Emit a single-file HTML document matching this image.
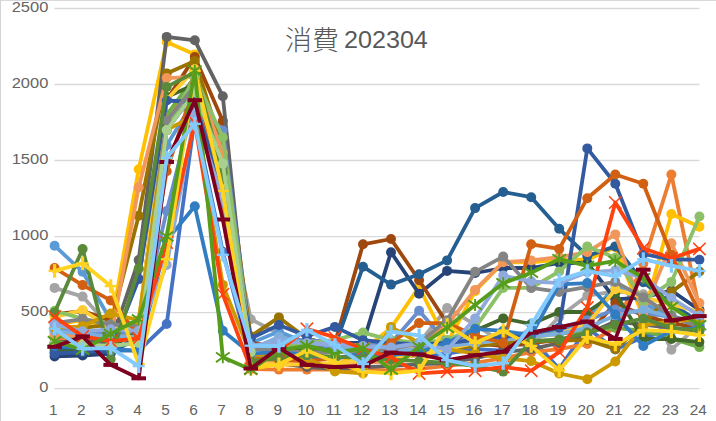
<!DOCTYPE html>
<html><head><meta charset="utf-8"><title>消費 202304</title>
<style>
html,body{margin:0;padding:0;background:#fff;}
#c{position:relative;width:716px;height:421px;overflow:hidden;background:#fff;font-family:"Liberation Sans","Noto Sans CJK JP",sans-serif;color:#595959;}
#bt{position:absolute;left:0;top:0;width:716px;height:1px;background:#d9d9d9;}
#bl{position:absolute;left:0;top:0;width:1.2px;height:421px;background:#d4d4d4;}
.yl{position:absolute;left:0;width:48.3px;text-align:right;transform:scaleX(1.07);transform-origin:100% 50%;font-size:15.4px;color:#646464;line-height:20px;height:20px;}
.xl{position:absolute;top:399.6px;width:40px;text-align:center;font-size:15.4px;color:#646464;line-height:20px;height:20px;}
#t{position:absolute;left:0;width:716px;top:21px;height:34px;font-size:23.6px;line-height:34px;white-space:pre;}
#t span{position:absolute;top:0;}
#t .j{left:285px;top:0.5px;font-family:"Noto Sans CJK JP",sans-serif;font-size:27px;font-weight:300;}
#t .d{left:343.8px;top:2.4px;transform:scaleX(1.065);transform-origin:0 50%;}
</style></head><body>
<div id="c">
<svg width="716" height="421" viewBox="0 0 716 421" style="position:absolute;left:0;top:0">
<line x1="54.4" x2="699.4" y1="388.6" y2="388.6" stroke="#d9d9d9" stroke-width="1.3"/>
<line x1="54.4" x2="699.4" y1="312.6" y2="312.6" stroke="#d9d9d9" stroke-width="1.3"/>
<line x1="54.4" x2="699.4" y1="236.6" y2="236.6" stroke="#d9d9d9" stroke-width="1.3"/>
<line x1="54.4" x2="699.4" y1="160.5" y2="160.5" stroke="#d9d9d9" stroke-width="1.3"/>
<line x1="54.4" x2="699.4" y1="84.5" y2="84.5" stroke="#d9d9d9" stroke-width="1.3"/>
<line x1="54.4" x2="699.4" y1="8.5" y2="8.5" stroke="#d9d9d9" stroke-width="1.3"/>
<g stroke="#4472C4" fill="#4472C4">
<polyline points="54.6,343.0 82.6,349.1 110.7,350.6 138.7,350.6 166.7,324.0 194.8,118.0 222.8,251.8 250.8,358.2 278.9,356.4 306.9,358.2 334.9,358.2 363.0,355.1 391.0,358.2 419.1,355.1 447.1,353.6 475.1,349.1 503.2,350.6 531.2,338.4 559.2,368.8 587.3,327.8 615.3,349.5 643.3,336.9 671.4,330.8 699.4,327.0" fill="none" stroke-width="3.8" stroke-linejoin="round" stroke-linecap="round"/>
<circle cx="54.6" cy="343.0" r="5.0" stroke="none"/>
<circle cx="82.6" cy="349.1" r="5.0" stroke="none"/>
<circle cx="110.7" cy="350.6" r="5.0" stroke="none"/>
<circle cx="138.7" cy="350.6" r="5.0" stroke="none"/>
<circle cx="166.7" cy="324.0" r="5.0" stroke="none"/>
<circle cx="194.8" cy="118.0" r="5.0" stroke="none"/>
<circle cx="222.8" cy="251.8" r="5.0" stroke="none"/>
<circle cx="250.8" cy="358.2" r="5.0" stroke="none"/>
<circle cx="278.9" cy="356.4" r="5.0" stroke="none"/>
<circle cx="306.9" cy="358.2" r="5.0" stroke="none"/>
<circle cx="334.9" cy="358.2" r="5.0" stroke="none"/>
<circle cx="363.0" cy="355.1" r="5.0" stroke="none"/>
<circle cx="391.0" cy="358.2" r="5.0" stroke="none"/>
<circle cx="419.1" cy="355.1" r="5.0" stroke="none"/>
<circle cx="447.1" cy="353.6" r="5.0" stroke="none"/>
<circle cx="475.1" cy="349.1" r="5.0" stroke="none"/>
<circle cx="503.2" cy="350.6" r="5.0" stroke="none"/>
<circle cx="531.2" cy="338.4" r="5.0" stroke="none"/>
<circle cx="559.2" cy="368.8" r="5.0" stroke="none"/>
<circle cx="587.3" cy="327.8" r="5.0" stroke="none"/>
<circle cx="615.3" cy="349.5" r="5.0" stroke="none"/>
<circle cx="643.3" cy="336.9" r="5.0" stroke="none"/>
<circle cx="671.4" cy="330.8" r="5.0" stroke="none"/>
<circle cx="699.4" cy="327.0" r="5.0" stroke="none"/>
</g>
<g stroke="#ED7D31" fill="#ED7D31">
<polyline points="54.6,338.4 82.6,343.0 110.7,344.5 138.7,335.4 166.7,122.5 194.8,78.4 222.8,206.1 250.8,369.1 278.9,369.6 306.9,369.6 334.9,369.6 363.0,369.6 391.0,370.4 419.1,368.8 447.1,365.8 475.1,362.8 503.2,358.2 531.2,352.1 559.2,349.1 587.3,343.9 615.3,327.8 643.3,263.6 671.4,174.5 699.4,309.5" fill="none" stroke-width="3.8" stroke-linejoin="round" stroke-linecap="round"/>
<circle cx="54.6" cy="338.4" r="5.0" stroke="none"/>
<circle cx="82.6" cy="343.0" r="5.0" stroke="none"/>
<circle cx="110.7" cy="344.5" r="5.0" stroke="none"/>
<circle cx="138.7" cy="335.4" r="5.0" stroke="none"/>
<circle cx="166.7" cy="122.5" r="5.0" stroke="none"/>
<circle cx="194.8" cy="78.4" r="5.0" stroke="none"/>
<circle cx="222.8" cy="206.1" r="5.0" stroke="none"/>
<circle cx="250.8" cy="369.1" r="5.0" stroke="none"/>
<circle cx="278.9" cy="369.6" r="5.0" stroke="none"/>
<circle cx="306.9" cy="369.6" r="5.0" stroke="none"/>
<circle cx="334.9" cy="369.6" r="5.0" stroke="none"/>
<circle cx="363.0" cy="369.6" r="5.0" stroke="none"/>
<circle cx="391.0" cy="370.4" r="5.0" stroke="none"/>
<circle cx="419.1" cy="368.8" r="5.0" stroke="none"/>
<circle cx="447.1" cy="365.8" r="5.0" stroke="none"/>
<circle cx="475.1" cy="362.8" r="5.0" stroke="none"/>
<circle cx="503.2" cy="358.2" r="5.0" stroke="none"/>
<circle cx="531.2" cy="352.1" r="5.0" stroke="none"/>
<circle cx="559.2" cy="349.1" r="5.0" stroke="none"/>
<circle cx="587.3" cy="343.9" r="5.0" stroke="none"/>
<circle cx="615.3" cy="327.8" r="5.0" stroke="none"/>
<circle cx="643.3" cy="263.6" r="5.0" stroke="none"/>
<circle cx="671.4" cy="174.5" r="5.0" stroke="none"/>
<circle cx="699.4" cy="309.5" r="5.0" stroke="none"/>
</g>
<g stroke="#A5A5A5" fill="#A5A5A5">
<polyline points="54.6,287.9 82.6,296.6 110.7,327.8 138.7,343.0 166.7,130.1 194.8,84.5 222.8,183.3 250.8,319.3 278.9,333.6 306.9,343.0 334.9,346.0 363.0,349.1 391.0,350.6 419.1,343.0 447.1,308.0 475.1,324.7 503.2,343.0 531.2,346.0 559.2,317.0 587.3,295.7 615.3,291.3 643.3,294.3 671.4,349.7 699.4,324.7" fill="none" stroke-width="3.8" stroke-linejoin="round" stroke-linecap="round"/>
<circle cx="54.6" cy="287.9" r="5.0" stroke="none"/>
<circle cx="82.6" cy="296.6" r="5.0" stroke="none"/>
<circle cx="110.7" cy="327.8" r="5.0" stroke="none"/>
<circle cx="138.7" cy="343.0" r="5.0" stroke="none"/>
<circle cx="166.7" cy="130.1" r="5.0" stroke="none"/>
<circle cx="194.8" cy="84.5" r="5.0" stroke="none"/>
<circle cx="222.8" cy="183.3" r="5.0" stroke="none"/>
<circle cx="250.8" cy="319.3" r="5.0" stroke="none"/>
<circle cx="278.9" cy="333.6" r="5.0" stroke="none"/>
<circle cx="306.9" cy="343.0" r="5.0" stroke="none"/>
<circle cx="334.9" cy="346.0" r="5.0" stroke="none"/>
<circle cx="363.0" cy="349.1" r="5.0" stroke="none"/>
<circle cx="391.0" cy="350.6" r="5.0" stroke="none"/>
<circle cx="419.1" cy="343.0" r="5.0" stroke="none"/>
<circle cx="447.1" cy="308.0" r="5.0" stroke="none"/>
<circle cx="475.1" cy="324.7" r="5.0" stroke="none"/>
<circle cx="503.2" cy="343.0" r="5.0" stroke="none"/>
<circle cx="531.2" cy="346.0" r="5.0" stroke="none"/>
<circle cx="559.2" cy="317.0" r="5.0" stroke="none"/>
<circle cx="587.3" cy="295.7" r="5.0" stroke="none"/>
<circle cx="615.3" cy="291.3" r="5.0" stroke="none"/>
<circle cx="643.3" cy="294.3" r="5.0" stroke="none"/>
<circle cx="671.4" cy="349.7" r="5.0" stroke="none"/>
<circle cx="699.4" cy="324.7" r="5.0" stroke="none"/>
</g>
<g stroke="#FFC000" fill="#FFC000">
<polyline points="54.6,324.7 82.6,320.2 110.7,327.8 138.7,169.2 166.7,41.9 194.8,54.4 222.8,157.5 250.8,364.3 278.9,364.3 306.9,365.8 334.9,365.8 363.0,350.6 391.0,327.8 419.1,287.0 447.1,343.0 475.1,291.3 503.2,262.4 531.2,262.4 559.2,259.7 587.3,259.7 615.3,247.2 643.3,317.1 671.4,214.0 699.4,226.8" fill="none" stroke-width="3.8" stroke-linejoin="round" stroke-linecap="round"/>
<circle cx="54.6" cy="324.7" r="5.0" stroke="none"/>
<circle cx="82.6" cy="320.2" r="5.0" stroke="none"/>
<circle cx="110.7" cy="327.8" r="5.0" stroke="none"/>
<circle cx="138.7" cy="169.2" r="5.0" stroke="none"/>
<circle cx="166.7" cy="41.9" r="5.0" stroke="none"/>
<circle cx="194.8" cy="54.4" r="5.0" stroke="none"/>
<circle cx="222.8" cy="157.5" r="5.0" stroke="none"/>
<circle cx="250.8" cy="364.3" r="5.0" stroke="none"/>
<circle cx="278.9" cy="364.3" r="5.0" stroke="none"/>
<circle cx="306.9" cy="365.8" r="5.0" stroke="none"/>
<circle cx="334.9" cy="365.8" r="5.0" stroke="none"/>
<circle cx="363.0" cy="350.6" r="5.0" stroke="none"/>
<circle cx="391.0" cy="327.8" r="5.0" stroke="none"/>
<circle cx="419.1" cy="287.0" r="5.0" stroke="none"/>
<circle cx="447.1" cy="343.0" r="5.0" stroke="none"/>
<circle cx="475.1" cy="291.3" r="5.0" stroke="none"/>
<circle cx="503.2" cy="262.4" r="5.0" stroke="none"/>
<circle cx="531.2" cy="262.4" r="5.0" stroke="none"/>
<circle cx="559.2" cy="259.7" r="5.0" stroke="none"/>
<circle cx="587.3" cy="259.7" r="5.0" stroke="none"/>
<circle cx="615.3" cy="247.2" r="5.0" stroke="none"/>
<circle cx="643.3" cy="317.1" r="5.0" stroke="none"/>
<circle cx="671.4" cy="214.0" r="5.0" stroke="none"/>
<circle cx="699.4" cy="226.8" r="5.0" stroke="none"/>
</g>
<g stroke="#5B9BD5" fill="#5B9BD5">
<polyline points="54.6,245.7 82.6,271.8 110.7,320.2 138.7,343.0 166.7,145.3 194.8,99.7 222.8,198.5 250.8,343.0 278.9,331.6 306.9,343.0 334.9,349.1 363.0,352.1 391.0,353.6 419.1,349.1 447.1,343.0 475.1,338.4 503.2,335.4 531.2,333.9 559.2,330.8 587.3,320.0 615.3,285.1 643.3,303.5 671.4,315.6 699.4,324.7" fill="none" stroke-width="3.8" stroke-linejoin="round" stroke-linecap="round"/>
<circle cx="54.6" cy="245.7" r="5.0" stroke="none"/>
<circle cx="82.6" cy="271.8" r="5.0" stroke="none"/>
<circle cx="110.7" cy="320.2" r="5.0" stroke="none"/>
<circle cx="138.7" cy="343.0" r="5.0" stroke="none"/>
<circle cx="166.7" cy="145.3" r="5.0" stroke="none"/>
<circle cx="194.8" cy="99.7" r="5.0" stroke="none"/>
<circle cx="222.8" cy="198.5" r="5.0" stroke="none"/>
<circle cx="250.8" cy="343.0" r="5.0" stroke="none"/>
<circle cx="278.9" cy="331.6" r="5.0" stroke="none"/>
<circle cx="306.9" cy="343.0" r="5.0" stroke="none"/>
<circle cx="334.9" cy="349.1" r="5.0" stroke="none"/>
<circle cx="363.0" cy="352.1" r="5.0" stroke="none"/>
<circle cx="391.0" cy="353.6" r="5.0" stroke="none"/>
<circle cx="419.1" cy="349.1" r="5.0" stroke="none"/>
<circle cx="447.1" cy="343.0" r="5.0" stroke="none"/>
<circle cx="475.1" cy="338.4" r="5.0" stroke="none"/>
<circle cx="503.2" cy="335.4" r="5.0" stroke="none"/>
<circle cx="531.2" cy="333.9" r="5.0" stroke="none"/>
<circle cx="559.2" cy="330.8" r="5.0" stroke="none"/>
<circle cx="587.3" cy="320.0" r="5.0" stroke="none"/>
<circle cx="615.3" cy="285.1" r="5.0" stroke="none"/>
<circle cx="643.3" cy="303.5" r="5.0" stroke="none"/>
<circle cx="671.4" cy="315.6" r="5.0" stroke="none"/>
<circle cx="699.4" cy="324.7" r="5.0" stroke="none"/>
</g>
<g stroke="#70AD47" fill="#70AD47">
<polyline points="54.6,335.4 82.6,338.4 110.7,343.0 138.7,330.8 166.7,114.9 194.8,76.9 222.8,152.9 250.8,358.2 278.9,355.1 306.9,349.1 334.9,350.6 363.0,352.1 391.0,353.6 419.1,352.1 447.1,349.1 475.1,343.0 503.2,339.9 531.2,336.9 559.2,333.9 587.3,330.8 615.3,327.8 643.3,330.8 671.4,338.4 699.4,347.1" fill="none" stroke-width="3.8" stroke-linejoin="round" stroke-linecap="round"/>
<circle cx="54.6" cy="335.4" r="5.0" stroke="none"/>
<circle cx="82.6" cy="338.4" r="5.0" stroke="none"/>
<circle cx="110.7" cy="343.0" r="5.0" stroke="none"/>
<circle cx="138.7" cy="330.8" r="5.0" stroke="none"/>
<circle cx="166.7" cy="114.9" r="5.0" stroke="none"/>
<circle cx="194.8" cy="76.9" r="5.0" stroke="none"/>
<circle cx="222.8" cy="152.9" r="5.0" stroke="none"/>
<circle cx="250.8" cy="358.2" r="5.0" stroke="none"/>
<circle cx="278.9" cy="355.1" r="5.0" stroke="none"/>
<circle cx="306.9" cy="349.1" r="5.0" stroke="none"/>
<circle cx="334.9" cy="350.6" r="5.0" stroke="none"/>
<circle cx="363.0" cy="352.1" r="5.0" stroke="none"/>
<circle cx="391.0" cy="353.6" r="5.0" stroke="none"/>
<circle cx="419.1" cy="352.1" r="5.0" stroke="none"/>
<circle cx="447.1" cy="349.1" r="5.0" stroke="none"/>
<circle cx="475.1" cy="343.0" r="5.0" stroke="none"/>
<circle cx="503.2" cy="339.9" r="5.0" stroke="none"/>
<circle cx="531.2" cy="336.9" r="5.0" stroke="none"/>
<circle cx="559.2" cy="333.9" r="5.0" stroke="none"/>
<circle cx="587.3" cy="330.8" r="5.0" stroke="none"/>
<circle cx="615.3" cy="327.8" r="5.0" stroke="none"/>
<circle cx="643.3" cy="330.8" r="5.0" stroke="none"/>
<circle cx="671.4" cy="338.4" r="5.0" stroke="none"/>
<circle cx="699.4" cy="347.1" r="5.0" stroke="none"/>
</g>
<g stroke="#264478" fill="#264478">
<polyline points="54.6,356.4 82.6,355.5 110.7,353.6 138.7,335.4 166.7,130.1 194.8,92.1 222.8,168.1 250.8,350.6 278.9,343.0 306.9,339.9 334.9,343.0 363.0,343.0 391.0,252.2 419.1,293.7 447.1,270.9 475.1,273.0 503.2,268.0 531.2,268.0 559.2,263.0 587.3,263.0 615.3,299.3 643.3,297.4 671.4,290.5 699.4,310.0" fill="none" stroke-width="3.8" stroke-linejoin="round" stroke-linecap="round"/>
<circle cx="54.6" cy="356.4" r="5.0" stroke="none"/>
<circle cx="82.6" cy="355.5" r="5.0" stroke="none"/>
<circle cx="110.7" cy="353.6" r="5.0" stroke="none"/>
<circle cx="138.7" cy="335.4" r="5.0" stroke="none"/>
<circle cx="166.7" cy="130.1" r="5.0" stroke="none"/>
<circle cx="194.8" cy="92.1" r="5.0" stroke="none"/>
<circle cx="222.8" cy="168.1" r="5.0" stroke="none"/>
<circle cx="250.8" cy="350.6" r="5.0" stroke="none"/>
<circle cx="278.9" cy="343.0" r="5.0" stroke="none"/>
<circle cx="306.9" cy="339.9" r="5.0" stroke="none"/>
<circle cx="334.9" cy="343.0" r="5.0" stroke="none"/>
<circle cx="363.0" cy="343.0" r="5.0" stroke="none"/>
<circle cx="391.0" cy="252.2" r="5.0" stroke="none"/>
<circle cx="419.1" cy="293.7" r="5.0" stroke="none"/>
<circle cx="447.1" cy="270.9" r="5.0" stroke="none"/>
<circle cx="475.1" cy="273.0" r="5.0" stroke="none"/>
<circle cx="503.2" cy="268.0" r="5.0" stroke="none"/>
<circle cx="531.2" cy="268.0" r="5.0" stroke="none"/>
<circle cx="559.2" cy="263.0" r="5.0" stroke="none"/>
<circle cx="587.3" cy="263.0" r="5.0" stroke="none"/>
<circle cx="615.3" cy="299.3" r="5.0" stroke="none"/>
<circle cx="643.3" cy="297.4" r="5.0" stroke="none"/>
<circle cx="671.4" cy="290.5" r="5.0" stroke="none"/>
<circle cx="699.4" cy="310.0" r="5.0" stroke="none"/>
</g>
<g stroke="#9E480E" fill="#9E480E">
<polyline points="54.6,314.2 82.6,311.1 110.7,320.2 138.7,324.7 166.7,99.7 194.8,57.1 222.8,121.0 250.8,343.0 278.9,346.0 306.9,349.1 334.9,343.0 363.0,244.3 391.0,239.0 419.1,280.3 447.1,323.2 475.1,343.0 503.2,346.0 531.2,343.0 559.2,339.9 587.3,335.4 615.3,303.1 643.3,315.6 671.4,323.2 699.4,327.8" fill="none" stroke-width="3.8" stroke-linejoin="round" stroke-linecap="round"/>
<circle cx="54.6" cy="314.2" r="5.0" stroke="none"/>
<circle cx="82.6" cy="311.1" r="5.0" stroke="none"/>
<circle cx="110.7" cy="320.2" r="5.0" stroke="none"/>
<circle cx="138.7" cy="324.7" r="5.0" stroke="none"/>
<circle cx="166.7" cy="99.7" r="5.0" stroke="none"/>
<circle cx="194.8" cy="57.1" r="5.0" stroke="none"/>
<circle cx="222.8" cy="121.0" r="5.0" stroke="none"/>
<circle cx="250.8" cy="343.0" r="5.0" stroke="none"/>
<circle cx="278.9" cy="346.0" r="5.0" stroke="none"/>
<circle cx="306.9" cy="349.1" r="5.0" stroke="none"/>
<circle cx="334.9" cy="343.0" r="5.0" stroke="none"/>
<circle cx="363.0" cy="244.3" r="5.0" stroke="none"/>
<circle cx="391.0" cy="239.0" r="5.0" stroke="none"/>
<circle cx="419.1" cy="280.3" r="5.0" stroke="none"/>
<circle cx="447.1" cy="323.2" r="5.0" stroke="none"/>
<circle cx="475.1" cy="343.0" r="5.0" stroke="none"/>
<circle cx="503.2" cy="346.0" r="5.0" stroke="none"/>
<circle cx="531.2" cy="343.0" r="5.0" stroke="none"/>
<circle cx="559.2" cy="339.9" r="5.0" stroke="none"/>
<circle cx="587.3" cy="335.4" r="5.0" stroke="none"/>
<circle cx="615.3" cy="303.1" r="5.0" stroke="none"/>
<circle cx="643.3" cy="315.6" r="5.0" stroke="none"/>
<circle cx="671.4" cy="323.2" r="5.0" stroke="none"/>
<circle cx="699.4" cy="327.8" r="5.0" stroke="none"/>
</g>
<g stroke="#636363" fill="#636363">
<polyline points="54.6,343.0 82.6,339.9 110.7,343.0 138.7,260.1 166.7,36.9 194.8,40.3 222.8,96.2 250.8,364.3 278.9,362.8 306.9,367.0 334.9,368.8 363.0,367.3 391.0,365.8 419.1,364.3 447.1,362.8 475.1,358.2 503.2,352.1 531.2,349.1 559.2,343.0 587.3,333.9 615.3,321.5 643.3,324.7 671.4,327.8 699.4,330.8" fill="none" stroke-width="3.8" stroke-linejoin="round" stroke-linecap="round"/>
<circle cx="54.6" cy="343.0" r="5.0" stroke="none"/>
<circle cx="82.6" cy="339.9" r="5.0" stroke="none"/>
<circle cx="110.7" cy="343.0" r="5.0" stroke="none"/>
<circle cx="138.7" cy="260.1" r="5.0" stroke="none"/>
<circle cx="166.7" cy="36.9" r="5.0" stroke="none"/>
<circle cx="194.8" cy="40.3" r="5.0" stroke="none"/>
<circle cx="222.8" cy="96.2" r="5.0" stroke="none"/>
<circle cx="250.8" cy="364.3" r="5.0" stroke="none"/>
<circle cx="278.9" cy="362.8" r="5.0" stroke="none"/>
<circle cx="306.9" cy="367.0" r="5.0" stroke="none"/>
<circle cx="334.9" cy="368.8" r="5.0" stroke="none"/>
<circle cx="363.0" cy="367.3" r="5.0" stroke="none"/>
<circle cx="391.0" cy="365.8" r="5.0" stroke="none"/>
<circle cx="419.1" cy="364.3" r="5.0" stroke="none"/>
<circle cx="447.1" cy="362.8" r="5.0" stroke="none"/>
<circle cx="475.1" cy="358.2" r="5.0" stroke="none"/>
<circle cx="503.2" cy="352.1" r="5.0" stroke="none"/>
<circle cx="531.2" cy="349.1" r="5.0" stroke="none"/>
<circle cx="559.2" cy="343.0" r="5.0" stroke="none"/>
<circle cx="587.3" cy="333.9" r="5.0" stroke="none"/>
<circle cx="615.3" cy="321.5" r="5.0" stroke="none"/>
<circle cx="643.3" cy="324.7" r="5.0" stroke="none"/>
<circle cx="671.4" cy="327.8" r="5.0" stroke="none"/>
<circle cx="699.4" cy="330.8" r="5.0" stroke="none"/>
</g>
<g stroke="#997300" fill="#997300">
<polyline points="54.6,330.8 82.6,327.8 110.7,324.7 138.7,215.7 166.7,73.4 194.8,60.9 222.8,148.4 250.8,336.3 278.9,317.4 306.9,338.4 334.9,346.0 363.0,349.1 391.0,350.6 419.1,352.1 447.1,349.1 475.1,346.0 503.2,343.0 531.2,341.5 559.2,340.7 587.3,339.9 615.3,349.1 643.3,324.7 671.4,291.9 699.4,271.5" fill="none" stroke-width="3.8" stroke-linejoin="round" stroke-linecap="round"/>
<circle cx="54.6" cy="330.8" r="5.0" stroke="none"/>
<circle cx="82.6" cy="327.8" r="5.0" stroke="none"/>
<circle cx="110.7" cy="324.7" r="5.0" stroke="none"/>
<circle cx="138.7" cy="215.7" r="5.0" stroke="none"/>
<circle cx="166.7" cy="73.4" r="5.0" stroke="none"/>
<circle cx="194.8" cy="60.9" r="5.0" stroke="none"/>
<circle cx="222.8" cy="148.4" r="5.0" stroke="none"/>
<circle cx="250.8" cy="336.3" r="5.0" stroke="none"/>
<circle cx="278.9" cy="317.4" r="5.0" stroke="none"/>
<circle cx="306.9" cy="338.4" r="5.0" stroke="none"/>
<circle cx="334.9" cy="346.0" r="5.0" stroke="none"/>
<circle cx="363.0" cy="349.1" r="5.0" stroke="none"/>
<circle cx="391.0" cy="350.6" r="5.0" stroke="none"/>
<circle cx="419.1" cy="352.1" r="5.0" stroke="none"/>
<circle cx="447.1" cy="349.1" r="5.0" stroke="none"/>
<circle cx="475.1" cy="346.0" r="5.0" stroke="none"/>
<circle cx="503.2" cy="343.0" r="5.0" stroke="none"/>
<circle cx="531.2" cy="341.5" r="5.0" stroke="none"/>
<circle cx="559.2" cy="340.7" r="5.0" stroke="none"/>
<circle cx="587.3" cy="339.9" r="5.0" stroke="none"/>
<circle cx="615.3" cy="349.1" r="5.0" stroke="none"/>
<circle cx="643.3" cy="324.7" r="5.0" stroke="none"/>
<circle cx="671.4" cy="291.9" r="5.0" stroke="none"/>
<circle cx="699.4" cy="271.5" r="5.0" stroke="none"/>
</g>
<g stroke="#255E91" fill="#255E91">
<polyline points="54.6,349.1 82.6,350.6 110.7,352.1 138.7,338.4 166.7,122.5 194.8,99.7 222.8,190.9 250.8,349.1 278.9,346.0 306.9,343.0 334.9,346.0 363.0,266.7 391.0,284.6 419.1,274.3 447.1,260.4 475.1,208.1 503.2,192.0 531.2,197.2 559.2,228.8 587.3,255.9 615.3,246.4 643.3,282.2 671.4,303.5 699.4,322.0" fill="none" stroke-width="3.8" stroke-linejoin="round" stroke-linecap="round"/>
<circle cx="54.6" cy="349.1" r="5.0" stroke="none"/>
<circle cx="82.6" cy="350.6" r="5.0" stroke="none"/>
<circle cx="110.7" cy="352.1" r="5.0" stroke="none"/>
<circle cx="138.7" cy="338.4" r="5.0" stroke="none"/>
<circle cx="166.7" cy="122.5" r="5.0" stroke="none"/>
<circle cx="194.8" cy="99.7" r="5.0" stroke="none"/>
<circle cx="222.8" cy="190.9" r="5.0" stroke="none"/>
<circle cx="250.8" cy="349.1" r="5.0" stroke="none"/>
<circle cx="278.9" cy="346.0" r="5.0" stroke="none"/>
<circle cx="306.9" cy="343.0" r="5.0" stroke="none"/>
<circle cx="334.9" cy="346.0" r="5.0" stroke="none"/>
<circle cx="363.0" cy="266.7" r="5.0" stroke="none"/>
<circle cx="391.0" cy="284.6" r="5.0" stroke="none"/>
<circle cx="419.1" cy="274.3" r="5.0" stroke="none"/>
<circle cx="447.1" cy="260.4" r="5.0" stroke="none"/>
<circle cx="475.1" cy="208.1" r="5.0" stroke="none"/>
<circle cx="503.2" cy="192.0" r="5.0" stroke="none"/>
<circle cx="531.2" cy="197.2" r="5.0" stroke="none"/>
<circle cx="559.2" cy="228.8" r="5.0" stroke="none"/>
<circle cx="587.3" cy="255.9" r="5.0" stroke="none"/>
<circle cx="615.3" cy="246.4" r="5.0" stroke="none"/>
<circle cx="643.3" cy="282.2" r="5.0" stroke="none"/>
<circle cx="671.4" cy="303.5" r="5.0" stroke="none"/>
<circle cx="699.4" cy="322.0" r="5.0" stroke="none"/>
</g>
<g stroke="#43682B" fill="#43682B">
<polyline points="54.6,352.1 82.6,350.6 110.7,349.1 138.7,327.8 166.7,97.0 194.8,84.5 222.8,175.7 250.8,355.1 278.9,352.1 306.9,349.1 334.9,350.6 363.0,352.1 391.0,353.6 419.1,350.6 447.1,343.0 475.1,330.8 503.2,318.4 531.2,324.0 559.2,312.0 587.3,312.0 615.3,293.1 643.3,339.0 671.4,339.0 699.4,342.1" fill="none" stroke-width="3.8" stroke-linejoin="round" stroke-linecap="round"/>
<circle cx="54.6" cy="352.1" r="5.0" stroke="none"/>
<circle cx="82.6" cy="350.6" r="5.0" stroke="none"/>
<circle cx="110.7" cy="349.1" r="5.0" stroke="none"/>
<circle cx="138.7" cy="327.8" r="5.0" stroke="none"/>
<circle cx="166.7" cy="97.0" r="5.0" stroke="none"/>
<circle cx="194.8" cy="84.5" r="5.0" stroke="none"/>
<circle cx="222.8" cy="175.7" r="5.0" stroke="none"/>
<circle cx="250.8" cy="355.1" r="5.0" stroke="none"/>
<circle cx="278.9" cy="352.1" r="5.0" stroke="none"/>
<circle cx="306.9" cy="349.1" r="5.0" stroke="none"/>
<circle cx="334.9" cy="350.6" r="5.0" stroke="none"/>
<circle cx="363.0" cy="352.1" r="5.0" stroke="none"/>
<circle cx="391.0" cy="353.6" r="5.0" stroke="none"/>
<circle cx="419.1" cy="350.6" r="5.0" stroke="none"/>
<circle cx="447.1" cy="343.0" r="5.0" stroke="none"/>
<circle cx="475.1" cy="330.8" r="5.0" stroke="none"/>
<circle cx="503.2" cy="318.4" r="5.0" stroke="none"/>
<circle cx="531.2" cy="324.0" r="5.0" stroke="none"/>
<circle cx="559.2" cy="312.0" r="5.0" stroke="none"/>
<circle cx="587.3" cy="312.0" r="5.0" stroke="none"/>
<circle cx="615.3" cy="293.1" r="5.0" stroke="none"/>
<circle cx="643.3" cy="339.0" r="5.0" stroke="none"/>
<circle cx="671.4" cy="339.0" r="5.0" stroke="none"/>
<circle cx="699.4" cy="342.1" r="5.0" stroke="none"/>
</g>
<g stroke="#698ED0" fill="#698ED0">
<polyline points="54.6,327.8 82.6,330.8 110.7,333.9 138.7,330.8 166.7,211.0 194.8,99.7 222.8,130.6 250.8,346.0 278.9,343.0 306.9,339.9 334.9,343.0 363.0,346.0 391.0,343.0 419.1,310.8 447.1,343.0 475.1,338.4 503.2,335.4 531.2,332.3 559.2,327.8 587.3,320.2 615.3,309.5 643.3,312.6 671.4,317.1 699.4,321.7" fill="none" stroke-width="3.8" stroke-linejoin="round" stroke-linecap="round"/>
<circle cx="54.6" cy="327.8" r="5.0" stroke="none"/>
<circle cx="82.6" cy="330.8" r="5.0" stroke="none"/>
<circle cx="110.7" cy="333.9" r="5.0" stroke="none"/>
<circle cx="138.7" cy="330.8" r="5.0" stroke="none"/>
<circle cx="166.7" cy="211.0" r="5.0" stroke="none"/>
<circle cx="194.8" cy="99.7" r="5.0" stroke="none"/>
<circle cx="222.8" cy="130.6" r="5.0" stroke="none"/>
<circle cx="250.8" cy="346.0" r="5.0" stroke="none"/>
<circle cx="278.9" cy="343.0" r="5.0" stroke="none"/>
<circle cx="306.9" cy="339.9" r="5.0" stroke="none"/>
<circle cx="334.9" cy="343.0" r="5.0" stroke="none"/>
<circle cx="363.0" cy="346.0" r="5.0" stroke="none"/>
<circle cx="391.0" cy="343.0" r="5.0" stroke="none"/>
<circle cx="419.1" cy="310.8" r="5.0" stroke="none"/>
<circle cx="447.1" cy="343.0" r="5.0" stroke="none"/>
<circle cx="475.1" cy="338.4" r="5.0" stroke="none"/>
<circle cx="503.2" cy="335.4" r="5.0" stroke="none"/>
<circle cx="531.2" cy="332.3" r="5.0" stroke="none"/>
<circle cx="559.2" cy="327.8" r="5.0" stroke="none"/>
<circle cx="587.3" cy="320.2" r="5.0" stroke="none"/>
<circle cx="615.3" cy="309.5" r="5.0" stroke="none"/>
<circle cx="643.3" cy="312.6" r="5.0" stroke="none"/>
<circle cx="671.4" cy="317.1" r="5.0" stroke="none"/>
<circle cx="699.4" cy="321.7" r="5.0" stroke="none"/>
</g>
<g stroke="#F1975A" fill="#F1975A">
<polyline points="54.6,333.9 82.6,336.9 110.7,338.4 138.7,187.3 166.7,78.1 194.8,76.9 222.8,152.9 250.8,361.2 278.9,362.8 306.9,364.3 334.9,364.3 363.0,362.8 391.0,361.2 419.1,343.0 447.1,324.7 475.1,289.9 503.2,262.2 531.2,260.4 559.2,257.1 587.3,252.1 615.3,234.4 643.3,312.6 671.4,243.2 699.4,303.1" fill="none" stroke-width="3.8" stroke-linejoin="round" stroke-linecap="round"/>
<circle cx="54.6" cy="333.9" r="5.0" stroke="none"/>
<circle cx="82.6" cy="336.9" r="5.0" stroke="none"/>
<circle cx="110.7" cy="338.4" r="5.0" stroke="none"/>
<circle cx="138.7" cy="187.3" r="5.0" stroke="none"/>
<circle cx="166.7" cy="78.1" r="5.0" stroke="none"/>
<circle cx="194.8" cy="76.9" r="5.0" stroke="none"/>
<circle cx="222.8" cy="152.9" r="5.0" stroke="none"/>
<circle cx="250.8" cy="361.2" r="5.0" stroke="none"/>
<circle cx="278.9" cy="362.8" r="5.0" stroke="none"/>
<circle cx="306.9" cy="364.3" r="5.0" stroke="none"/>
<circle cx="334.9" cy="364.3" r="5.0" stroke="none"/>
<circle cx="363.0" cy="362.8" r="5.0" stroke="none"/>
<circle cx="391.0" cy="361.2" r="5.0" stroke="none"/>
<circle cx="419.1" cy="343.0" r="5.0" stroke="none"/>
<circle cx="447.1" cy="324.7" r="5.0" stroke="none"/>
<circle cx="475.1" cy="289.9" r="5.0" stroke="none"/>
<circle cx="503.2" cy="262.2" r="5.0" stroke="none"/>
<circle cx="531.2" cy="260.4" r="5.0" stroke="none"/>
<circle cx="559.2" cy="257.1" r="5.0" stroke="none"/>
<circle cx="587.3" cy="252.1" r="5.0" stroke="none"/>
<circle cx="615.3" cy="234.4" r="5.0" stroke="none"/>
<circle cx="643.3" cy="312.6" r="5.0" stroke="none"/>
<circle cx="671.4" cy="243.2" r="5.0" stroke="none"/>
<circle cx="699.4" cy="303.1" r="5.0" stroke="none"/>
</g>
<g stroke="#FFCD33" fill="#FFCD33">
<polyline points="54.6,317.1 82.6,310.1 110.7,327.8 138.7,321.7 166.7,99.7 194.8,69.3 222.8,178.8 250.8,362.8 278.9,364.3 306.9,364.3 334.9,362.8 363.0,361.2 391.0,358.2 419.1,355.1 447.1,349.1 475.1,343.0 503.2,339.9 531.2,336.9 559.2,333.9 587.3,324.7 615.3,289.3 643.3,297.4 671.4,304.4 699.4,312.0" fill="none" stroke-width="3.8" stroke-linejoin="round" stroke-linecap="round"/>
<circle cx="54.6" cy="317.1" r="5.0" stroke="none"/>
<circle cx="82.6" cy="310.1" r="5.0" stroke="none"/>
<circle cx="110.7" cy="327.8" r="5.0" stroke="none"/>
<circle cx="138.7" cy="321.7" r="5.0" stroke="none"/>
<circle cx="166.7" cy="99.7" r="5.0" stroke="none"/>
<circle cx="194.8" cy="69.3" r="5.0" stroke="none"/>
<circle cx="222.8" cy="178.8" r="5.0" stroke="none"/>
<circle cx="250.8" cy="362.8" r="5.0" stroke="none"/>
<circle cx="278.9" cy="364.3" r="5.0" stroke="none"/>
<circle cx="306.9" cy="364.3" r="5.0" stroke="none"/>
<circle cx="334.9" cy="362.8" r="5.0" stroke="none"/>
<circle cx="363.0" cy="361.2" r="5.0" stroke="none"/>
<circle cx="391.0" cy="358.2" r="5.0" stroke="none"/>
<circle cx="419.1" cy="355.1" r="5.0" stroke="none"/>
<circle cx="447.1" cy="349.1" r="5.0" stroke="none"/>
<circle cx="475.1" cy="343.0" r="5.0" stroke="none"/>
<circle cx="503.2" cy="339.9" r="5.0" stroke="none"/>
<circle cx="531.2" cy="336.9" r="5.0" stroke="none"/>
<circle cx="559.2" cy="333.9" r="5.0" stroke="none"/>
<circle cx="587.3" cy="324.7" r="5.0" stroke="none"/>
<circle cx="615.3" cy="289.3" r="5.0" stroke="none"/>
<circle cx="643.3" cy="297.4" r="5.0" stroke="none"/>
<circle cx="671.4" cy="304.4" r="5.0" stroke="none"/>
<circle cx="699.4" cy="312.0" r="5.0" stroke="none"/>
</g>
<g stroke="#7CAFDD" fill="#7CAFDD">
<polyline points="54.6,330.8 82.6,333.9 110.7,336.9 138.7,336.9 166.7,130.1 194.8,92.1 222.8,190.9 250.8,349.1 278.9,336.9 306.9,343.0 334.9,346.0 363.0,349.1 391.0,350.6 419.1,349.1 447.1,346.0 475.1,343.0 503.2,339.9 531.2,336.9 559.2,333.9 587.3,327.8 615.3,315.6 643.3,309.5 671.4,317.1 699.4,326.3" fill="none" stroke-width="3.8" stroke-linejoin="round" stroke-linecap="round"/>
<circle cx="54.6" cy="330.8" r="5.0" stroke="none"/>
<circle cx="82.6" cy="333.9" r="5.0" stroke="none"/>
<circle cx="110.7" cy="336.9" r="5.0" stroke="none"/>
<circle cx="138.7" cy="336.9" r="5.0" stroke="none"/>
<circle cx="166.7" cy="130.1" r="5.0" stroke="none"/>
<circle cx="194.8" cy="92.1" r="5.0" stroke="none"/>
<circle cx="222.8" cy="190.9" r="5.0" stroke="none"/>
<circle cx="250.8" cy="349.1" r="5.0" stroke="none"/>
<circle cx="278.9" cy="336.9" r="5.0" stroke="none"/>
<circle cx="306.9" cy="343.0" r="5.0" stroke="none"/>
<circle cx="334.9" cy="346.0" r="5.0" stroke="none"/>
<circle cx="363.0" cy="349.1" r="5.0" stroke="none"/>
<circle cx="391.0" cy="350.6" r="5.0" stroke="none"/>
<circle cx="419.1" cy="349.1" r="5.0" stroke="none"/>
<circle cx="447.1" cy="346.0" r="5.0" stroke="none"/>
<circle cx="475.1" cy="343.0" r="5.0" stroke="none"/>
<circle cx="503.2" cy="339.9" r="5.0" stroke="none"/>
<circle cx="531.2" cy="336.9" r="5.0" stroke="none"/>
<circle cx="559.2" cy="333.9" r="5.0" stroke="none"/>
<circle cx="587.3" cy="327.8" r="5.0" stroke="none"/>
<circle cx="615.3" cy="315.6" r="5.0" stroke="none"/>
<circle cx="643.3" cy="309.5" r="5.0" stroke="none"/>
<circle cx="671.4" cy="317.1" r="5.0" stroke="none"/>
<circle cx="699.4" cy="326.3" r="5.0" stroke="none"/>
</g>
<g stroke="#8CC168" fill="#8CC168">
<polyline points="54.6,310.8 82.6,318.7 110.7,324.4 138.7,327.8 166.7,128.3 194.8,76.9 222.8,137.3 250.8,349.1 278.9,346.0 306.9,343.0 334.9,339.9 363.0,332.6 391.0,339.9 419.1,343.0 447.1,339.9 475.1,327.8 503.2,287.9 531.2,287.9 559.2,271.5 587.3,246.4 615.3,257.7 643.3,300.7 671.4,281.9 699.4,216.5" fill="none" stroke-width="3.8" stroke-linejoin="round" stroke-linecap="round"/>
<circle cx="54.6" cy="310.8" r="5.0" stroke="none"/>
<circle cx="82.6" cy="318.7" r="5.0" stroke="none"/>
<circle cx="110.7" cy="324.4" r="5.0" stroke="none"/>
<circle cx="138.7" cy="327.8" r="5.0" stroke="none"/>
<circle cx="166.7" cy="128.3" r="5.0" stroke="none"/>
<circle cx="194.8" cy="76.9" r="5.0" stroke="none"/>
<circle cx="222.8" cy="137.3" r="5.0" stroke="none"/>
<circle cx="250.8" cy="349.1" r="5.0" stroke="none"/>
<circle cx="278.9" cy="346.0" r="5.0" stroke="none"/>
<circle cx="306.9" cy="343.0" r="5.0" stroke="none"/>
<circle cx="334.9" cy="339.9" r="5.0" stroke="none"/>
<circle cx="363.0" cy="332.6" r="5.0" stroke="none"/>
<circle cx="391.0" cy="339.9" r="5.0" stroke="none"/>
<circle cx="419.1" cy="343.0" r="5.0" stroke="none"/>
<circle cx="447.1" cy="339.9" r="5.0" stroke="none"/>
<circle cx="475.1" cy="327.8" r="5.0" stroke="none"/>
<circle cx="503.2" cy="287.9" r="5.0" stroke="none"/>
<circle cx="531.2" cy="287.9" r="5.0" stroke="none"/>
<circle cx="559.2" cy="271.5" r="5.0" stroke="none"/>
<circle cx="587.3" cy="246.4" r="5.0" stroke="none"/>
<circle cx="615.3" cy="257.7" r="5.0" stroke="none"/>
<circle cx="643.3" cy="300.7" r="5.0" stroke="none"/>
<circle cx="671.4" cy="281.9" r="5.0" stroke="none"/>
<circle cx="699.4" cy="216.5" r="5.0" stroke="none"/>
</g>
<g stroke="#335AA1" fill="#335AA1">
<polyline points="54.6,353.6 82.6,352.1 110.7,350.6 138.7,279.1 166.7,100.5 194.8,102.0 222.8,190.9 250.8,338.3 278.9,325.0 306.9,336.3 334.9,326.9 363.0,340.2 391.0,343.0 419.1,344.5 447.1,343.0 475.1,339.9 503.2,336.9 531.2,333.9 559.2,327.8 587.3,148.4 615.3,183.8 643.3,253.9 671.4,259.7 699.4,259.7" fill="none" stroke-width="3.8" stroke-linejoin="round" stroke-linecap="round"/>
<circle cx="54.6" cy="353.6" r="5.0" stroke="none"/>
<circle cx="82.6" cy="352.1" r="5.0" stroke="none"/>
<circle cx="110.7" cy="350.6" r="5.0" stroke="none"/>
<circle cx="138.7" cy="279.1" r="5.0" stroke="none"/>
<circle cx="166.7" cy="100.5" r="5.0" stroke="none"/>
<circle cx="194.8" cy="102.0" r="5.0" stroke="none"/>
<circle cx="222.8" cy="190.9" r="5.0" stroke="none"/>
<circle cx="250.8" cy="338.3" r="5.0" stroke="none"/>
<circle cx="278.9" cy="325.0" r="5.0" stroke="none"/>
<circle cx="306.9" cy="336.3" r="5.0" stroke="none"/>
<circle cx="334.9" cy="326.9" r="5.0" stroke="none"/>
<circle cx="363.0" cy="340.2" r="5.0" stroke="none"/>
<circle cx="391.0" cy="343.0" r="5.0" stroke="none"/>
<circle cx="419.1" cy="344.5" r="5.0" stroke="none"/>
<circle cx="447.1" cy="343.0" r="5.0" stroke="none"/>
<circle cx="475.1" cy="339.9" r="5.0" stroke="none"/>
<circle cx="503.2" cy="336.9" r="5.0" stroke="none"/>
<circle cx="531.2" cy="333.9" r="5.0" stroke="none"/>
<circle cx="559.2" cy="327.8" r="5.0" stroke="none"/>
<circle cx="587.3" cy="148.4" r="5.0" stroke="none"/>
<circle cx="615.3" cy="183.8" r="5.0" stroke="none"/>
<circle cx="643.3" cy="253.9" r="5.0" stroke="none"/>
<circle cx="671.4" cy="259.7" r="5.0" stroke="none"/>
<circle cx="699.4" cy="259.7" r="5.0" stroke="none"/>
</g>
<g stroke="#D26012" fill="#D26012">
<polyline points="54.6,268.0 82.6,285.1 110.7,300.4 138.7,335.4 166.7,171.2 194.8,84.5 222.8,183.3 250.8,358.2 278.9,359.7 306.9,361.2 334.9,358.2 363.0,355.1 391.0,343.0 419.1,323.1 447.1,323.1 475.1,335.4 503.2,343.0 531.2,244.3 559.2,248.9 587.3,198.2 615.3,174.5 643.3,183.8 671.4,254.8 699.4,313.0" fill="none" stroke-width="3.8" stroke-linejoin="round" stroke-linecap="round"/>
<circle cx="54.6" cy="268.0" r="5.0" stroke="none"/>
<circle cx="82.6" cy="285.1" r="5.0" stroke="none"/>
<circle cx="110.7" cy="300.4" r="5.0" stroke="none"/>
<circle cx="138.7" cy="335.4" r="5.0" stroke="none"/>
<circle cx="166.7" cy="171.2" r="5.0" stroke="none"/>
<circle cx="194.8" cy="84.5" r="5.0" stroke="none"/>
<circle cx="222.8" cy="183.3" r="5.0" stroke="none"/>
<circle cx="250.8" cy="358.2" r="5.0" stroke="none"/>
<circle cx="278.9" cy="359.7" r="5.0" stroke="none"/>
<circle cx="306.9" cy="361.2" r="5.0" stroke="none"/>
<circle cx="334.9" cy="358.2" r="5.0" stroke="none"/>
<circle cx="363.0" cy="355.1" r="5.0" stroke="none"/>
<circle cx="391.0" cy="343.0" r="5.0" stroke="none"/>
<circle cx="419.1" cy="323.1" r="5.0" stroke="none"/>
<circle cx="447.1" cy="323.1" r="5.0" stroke="none"/>
<circle cx="475.1" cy="335.4" r="5.0" stroke="none"/>
<circle cx="503.2" cy="343.0" r="5.0" stroke="none"/>
<circle cx="531.2" cy="244.3" r="5.0" stroke="none"/>
<circle cx="559.2" cy="248.9" r="5.0" stroke="none"/>
<circle cx="587.3" cy="198.2" r="5.0" stroke="none"/>
<circle cx="615.3" cy="174.5" r="5.0" stroke="none"/>
<circle cx="643.3" cy="183.8" r="5.0" stroke="none"/>
<circle cx="671.4" cy="254.8" r="5.0" stroke="none"/>
<circle cx="699.4" cy="313.0" r="5.0" stroke="none"/>
</g>
<g stroke="#848484" fill="#848484">
<polyline points="54.6,323.2 82.6,319.1 110.7,324.7 138.7,324.7 166.7,120.7 194.8,86.0 222.8,168.1 250.8,349.1 278.9,350.6 306.9,352.1 334.9,352.1 363.0,350.6 391.0,349.1 419.1,343.0 447.1,320.2 475.1,271.8 503.2,256.6 531.2,287.9 559.2,291.9 587.3,286.9 615.3,281.9 643.3,297.4 671.4,315.6 699.4,327.8" fill="none" stroke-width="3.8" stroke-linejoin="round" stroke-linecap="round"/>
<circle cx="54.6" cy="323.2" r="5.0" stroke="none"/>
<circle cx="82.6" cy="319.1" r="5.0" stroke="none"/>
<circle cx="110.7" cy="324.7" r="5.0" stroke="none"/>
<circle cx="138.7" cy="324.7" r="5.0" stroke="none"/>
<circle cx="166.7" cy="120.7" r="5.0" stroke="none"/>
<circle cx="194.8" cy="86.0" r="5.0" stroke="none"/>
<circle cx="222.8" cy="168.1" r="5.0" stroke="none"/>
<circle cx="250.8" cy="349.1" r="5.0" stroke="none"/>
<circle cx="278.9" cy="350.6" r="5.0" stroke="none"/>
<circle cx="306.9" cy="352.1" r="5.0" stroke="none"/>
<circle cx="334.9" cy="352.1" r="5.0" stroke="none"/>
<circle cx="363.0" cy="350.6" r="5.0" stroke="none"/>
<circle cx="391.0" cy="349.1" r="5.0" stroke="none"/>
<circle cx="419.1" cy="343.0" r="5.0" stroke="none"/>
<circle cx="447.1" cy="320.2" r="5.0" stroke="none"/>
<circle cx="475.1" cy="271.8" r="5.0" stroke="none"/>
<circle cx="503.2" cy="256.6" r="5.0" stroke="none"/>
<circle cx="531.2" cy="287.9" r="5.0" stroke="none"/>
<circle cx="559.2" cy="291.9" r="5.0" stroke="none"/>
<circle cx="587.3" cy="286.9" r="5.0" stroke="none"/>
<circle cx="615.3" cy="281.9" r="5.0" stroke="none"/>
<circle cx="643.3" cy="297.4" r="5.0" stroke="none"/>
<circle cx="671.4" cy="315.6" r="5.0" stroke="none"/>
<circle cx="699.4" cy="327.8" r="5.0" stroke="none"/>
</g>
<g stroke="#CC9A00" fill="#CC9A00">
<polyline points="54.6,327.8 82.6,326.3 110.7,313.6 138.7,320.2 166.7,130.1 194.8,114.9 222.8,284.9 250.8,355.1 278.9,353.6 306.9,358.2 334.9,371.4 363.0,373.4 391.0,326.9 419.1,343.0 447.1,349.1 475.1,353.6 503.2,358.2 531.2,361.1 559.2,373.5 587.3,379.2 615.3,361.5 643.3,325.0 671.4,321.7 699.4,318.7" fill="none" stroke-width="3.8" stroke-linejoin="round" stroke-linecap="round"/>
<circle cx="54.6" cy="327.8" r="5.0" stroke="none"/>
<circle cx="82.6" cy="326.3" r="5.0" stroke="none"/>
<circle cx="110.7" cy="313.6" r="5.0" stroke="none"/>
<circle cx="138.7" cy="320.2" r="5.0" stroke="none"/>
<circle cx="166.7" cy="130.1" r="5.0" stroke="none"/>
<circle cx="194.8" cy="114.9" r="5.0" stroke="none"/>
<circle cx="222.8" cy="284.9" r="5.0" stroke="none"/>
<circle cx="250.8" cy="355.1" r="5.0" stroke="none"/>
<circle cx="278.9" cy="353.6" r="5.0" stroke="none"/>
<circle cx="306.9" cy="358.2" r="5.0" stroke="none"/>
<circle cx="334.9" cy="371.4" r="5.0" stroke="none"/>
<circle cx="363.0" cy="373.4" r="5.0" stroke="none"/>
<circle cx="391.0" cy="326.9" r="5.0" stroke="none"/>
<circle cx="419.1" cy="343.0" r="5.0" stroke="none"/>
<circle cx="447.1" cy="349.1" r="5.0" stroke="none"/>
<circle cx="475.1" cy="353.6" r="5.0" stroke="none"/>
<circle cx="503.2" cy="358.2" r="5.0" stroke="none"/>
<circle cx="531.2" cy="361.1" r="5.0" stroke="none"/>
<circle cx="559.2" cy="373.5" r="5.0" stroke="none"/>
<circle cx="587.3" cy="379.2" r="5.0" stroke="none"/>
<circle cx="615.3" cy="361.5" r="5.0" stroke="none"/>
<circle cx="643.3" cy="325.0" r="5.0" stroke="none"/>
<circle cx="671.4" cy="321.7" r="5.0" stroke="none"/>
<circle cx="699.4" cy="318.7" r="5.0" stroke="none"/>
</g>
<g stroke="#327DC2" fill="#327DC2">
<polyline points="54.6,346.0 82.6,347.5 110.7,349.1 138.7,350.6 166.7,240.4 194.8,206.3 222.8,330.7 250.8,353.6 278.9,352.1 306.9,355.1 334.9,358.2 363.0,353.6 391.0,355.1 419.1,352.1 447.1,343.0 475.1,328.8 503.2,330.8 531.2,335.4 559.2,284.3 587.3,283.1 615.3,314.6 643.3,345.9 671.4,330.8 699.4,327.8" fill="none" stroke-width="3.8" stroke-linejoin="round" stroke-linecap="round"/>
<circle cx="54.6" cy="346.0" r="5.0" stroke="none"/>
<circle cx="82.6" cy="347.5" r="5.0" stroke="none"/>
<circle cx="110.7" cy="349.1" r="5.0" stroke="none"/>
<circle cx="138.7" cy="350.6" r="5.0" stroke="none"/>
<circle cx="166.7" cy="240.4" r="5.0" stroke="none"/>
<circle cx="194.8" cy="206.3" r="5.0" stroke="none"/>
<circle cx="222.8" cy="330.7" r="5.0" stroke="none"/>
<circle cx="250.8" cy="353.6" r="5.0" stroke="none"/>
<circle cx="278.9" cy="352.1" r="5.0" stroke="none"/>
<circle cx="306.9" cy="355.1" r="5.0" stroke="none"/>
<circle cx="334.9" cy="358.2" r="5.0" stroke="none"/>
<circle cx="363.0" cy="353.6" r="5.0" stroke="none"/>
<circle cx="391.0" cy="355.1" r="5.0" stroke="none"/>
<circle cx="419.1" cy="352.1" r="5.0" stroke="none"/>
<circle cx="447.1" cy="343.0" r="5.0" stroke="none"/>
<circle cx="475.1" cy="328.8" r="5.0" stroke="none"/>
<circle cx="503.2" cy="330.8" r="5.0" stroke="none"/>
<circle cx="531.2" cy="335.4" r="5.0" stroke="none"/>
<circle cx="559.2" cy="284.3" r="5.0" stroke="none"/>
<circle cx="587.3" cy="283.1" r="5.0" stroke="none"/>
<circle cx="615.3" cy="314.6" r="5.0" stroke="none"/>
<circle cx="643.3" cy="345.9" r="5.0" stroke="none"/>
<circle cx="671.4" cy="330.8" r="5.0" stroke="none"/>
<circle cx="699.4" cy="327.8" r="5.0" stroke="none"/>
</g>
<g stroke="#5A8A39" fill="#5A8A39">
<polyline points="54.6,312.6 82.6,249.0 110.7,359.3 138.7,268.6 166.7,86.9 194.8,72.3 222.8,172.7 250.8,361.2 278.9,358.2 306.9,355.1 334.9,356.7 363.0,358.2 391.0,359.7 419.1,361.2 447.1,362.8 475.1,365.8 503.2,371.6 531.2,341.2 559.2,339.5 587.3,332.6 615.3,324.7 643.3,318.7 671.4,327.6 699.4,330.8" fill="none" stroke-width="3.8" stroke-linejoin="round" stroke-linecap="round"/>
<circle cx="54.6" cy="312.6" r="5.0" stroke="none"/>
<circle cx="82.6" cy="249.0" r="5.0" stroke="none"/>
<circle cx="110.7" cy="359.3" r="5.0" stroke="none"/>
<circle cx="138.7" cy="268.6" r="5.0" stroke="none"/>
<circle cx="166.7" cy="86.9" r="5.0" stroke="none"/>
<circle cx="194.8" cy="72.3" r="5.0" stroke="none"/>
<circle cx="222.8" cy="172.7" r="5.0" stroke="none"/>
<circle cx="250.8" cy="361.2" r="5.0" stroke="none"/>
<circle cx="278.9" cy="358.2" r="5.0" stroke="none"/>
<circle cx="306.9" cy="355.1" r="5.0" stroke="none"/>
<circle cx="334.9" cy="356.7" r="5.0" stroke="none"/>
<circle cx="363.0" cy="358.2" r="5.0" stroke="none"/>
<circle cx="391.0" cy="359.7" r="5.0" stroke="none"/>
<circle cx="419.1" cy="361.2" r="5.0" stroke="none"/>
<circle cx="447.1" cy="362.8" r="5.0" stroke="none"/>
<circle cx="475.1" cy="365.8" r="5.0" stroke="none"/>
<circle cx="503.2" cy="371.6" r="5.0" stroke="none"/>
<circle cx="531.2" cy="341.2" r="5.0" stroke="none"/>
<circle cx="559.2" cy="339.5" r="5.0" stroke="none"/>
<circle cx="587.3" cy="332.6" r="5.0" stroke="none"/>
<circle cx="615.3" cy="324.7" r="5.0" stroke="none"/>
<circle cx="643.3" cy="318.7" r="5.0" stroke="none"/>
<circle cx="671.4" cy="327.6" r="5.0" stroke="none"/>
<circle cx="699.4" cy="330.8" r="5.0" stroke="none"/>
</g>
<g stroke="#8FAADC" fill="#8FAADC">
<polyline points="54.6,324.1 82.6,331.3 110.7,329.3 138.7,330.8 166.7,265.0 194.8,114.9 222.8,198.5 250.8,346.0 278.9,341.2 306.9,343.0 334.9,344.5 363.0,346.0 391.0,347.5 419.1,343.0 447.1,349.7 475.1,318.4 503.2,275.6 531.2,281.3 559.2,283.2 587.3,272.3 615.3,270.3 643.3,277.6 671.4,298.0 699.4,315.6" fill="none" stroke-width="3.8" stroke-linejoin="round" stroke-linecap="round"/>
<circle cx="54.6" cy="324.1" r="5.0" stroke="none"/>
<circle cx="82.6" cy="331.3" r="5.0" stroke="none"/>
<circle cx="110.7" cy="329.3" r="5.0" stroke="none"/>
<circle cx="138.7" cy="330.8" r="5.0" stroke="none"/>
<circle cx="166.7" cy="265.0" r="5.0" stroke="none"/>
<circle cx="194.8" cy="114.9" r="5.0" stroke="none"/>
<circle cx="222.8" cy="198.5" r="5.0" stroke="none"/>
<circle cx="250.8" cy="346.0" r="5.0" stroke="none"/>
<circle cx="278.9" cy="341.2" r="5.0" stroke="none"/>
<circle cx="306.9" cy="343.0" r="5.0" stroke="none"/>
<circle cx="334.9" cy="344.5" r="5.0" stroke="none"/>
<circle cx="363.0" cy="346.0" r="5.0" stroke="none"/>
<circle cx="391.0" cy="347.5" r="5.0" stroke="none"/>
<circle cx="419.1" cy="343.0" r="5.0" stroke="none"/>
<circle cx="447.1" cy="349.7" r="5.0" stroke="none"/>
<circle cx="475.1" cy="318.4" r="5.0" stroke="none"/>
<circle cx="503.2" cy="275.6" r="5.0" stroke="none"/>
<circle cx="531.2" cy="281.3" r="5.0" stroke="none"/>
<circle cx="559.2" cy="283.2" r="5.0" stroke="none"/>
<circle cx="587.3" cy="272.3" r="5.0" stroke="none"/>
<circle cx="615.3" cy="270.3" r="5.0" stroke="none"/>
<circle cx="643.3" cy="277.6" r="5.0" stroke="none"/>
<circle cx="671.4" cy="298.0" r="5.0" stroke="none"/>
<circle cx="699.4" cy="315.6" r="5.0" stroke="none"/>
</g>
<g stroke="#A9D18E" fill="#A9D18E">
<polyline points="54.6,343.0 82.6,344.5 110.7,346.0 138.7,343.0 166.7,130.1 194.8,92.1 222.8,163.6 250.8,352.1" fill="none" stroke-width="3.8" stroke-linejoin="round" stroke-linecap="round"/>
<circle cx="54.6" cy="343.0" r="5.0" stroke="none"/>
<circle cx="82.6" cy="344.5" r="5.0" stroke="none"/>
<circle cx="110.7" cy="346.0" r="5.0" stroke="none"/>
<circle cx="138.7" cy="343.0" r="5.0" stroke="none"/>
<circle cx="166.7" cy="130.1" r="5.0" stroke="none"/>
<circle cx="194.8" cy="92.1" r="5.0" stroke="none"/>
<circle cx="222.8" cy="163.6" r="5.0" stroke="none"/>
<circle cx="250.8" cy="352.1" r="5.0" stroke="none"/>
</g>
<g stroke="#FF420E" fill="#FF420E">
<polyline points="54.6,316.7 82.6,336.4 110.7,341.2 138.7,338.3 166.7,242.6 194.8,122.5 222.8,294.3 250.8,368.8 278.9,350.6 306.9,328.8 334.9,337.4 363.0,349.1 391.0,357.3 419.1,373.4 447.1,371.6 475.1,370.7 503.2,366.9 531.2,370.7 559.2,352.1 587.3,307.6 615.3,202.5 643.3,248.3 671.4,258.3 699.4,248.9" fill="none" stroke-width="3.8" stroke-linejoin="round" stroke-linecap="round"/>
<path d="M48.4 310.5L60.8 322.9M48.4 322.9L60.8 310.5" stroke-width="1.5" fill="none"/>
<path d="M76.4 330.2L88.8 342.6M76.4 342.6L88.8 330.2" stroke-width="1.5" fill="none"/>
<path d="M104.5 335.0L116.9 347.4M104.5 347.4L116.9 335.0" stroke-width="1.5" fill="none"/>
<path d="M132.5 332.1L144.9 344.5M132.5 344.5L144.9 332.1" stroke-width="1.5" fill="none"/>
<path d="M160.5 236.4L172.9 248.8M160.5 248.8L172.9 236.4" stroke-width="1.5" fill="none"/>
<path d="M188.6 116.3L201.0 128.7M188.6 128.7L201.0 116.3" stroke-width="1.5" fill="none"/>
<path d="M216.6 288.1L229.0 300.5M216.6 300.5L229.0 288.1" stroke-width="1.5" fill="none"/>
<path d="M244.6 362.6L257.0 375.0M244.6 375.0L257.0 362.6" stroke-width="1.5" fill="none"/>
<path d="M272.7 344.4L285.1 356.8M272.7 356.8L285.1 344.4" stroke-width="1.5" fill="none"/>
<path d="M300.7 322.6L313.1 335.0M300.7 335.0L313.1 322.6" stroke-width="1.5" fill="none"/>
<path d="M328.7 331.2L341.1 343.6M328.7 343.6L341.1 331.2" stroke-width="1.5" fill="none"/>
<path d="M356.8 342.9L369.2 355.3M356.8 355.3L369.2 342.9" stroke-width="1.5" fill="none"/>
<path d="M384.8 351.1L397.2 363.5M384.8 363.5L397.2 351.1" stroke-width="1.5" fill="none"/>
<path d="M412.9 367.2L425.3 379.6M412.9 379.6L425.3 367.2" stroke-width="1.5" fill="none"/>
<path d="M440.9 365.4L453.3 377.8M440.9 377.8L453.3 365.4" stroke-width="1.5" fill="none"/>
<path d="M468.9 364.5L481.3 376.9M468.9 376.9L481.3 364.5" stroke-width="1.5" fill="none"/>
<path d="M497.0 360.7L509.4 373.1M497.0 373.1L509.4 360.7" stroke-width="1.5" fill="none"/>
<path d="M525.0 364.5L537.4 376.9M525.0 376.9L537.4 364.5" stroke-width="1.5" fill="none"/>
<path d="M553.0 345.9L565.4 358.3M553.0 358.3L565.4 345.9" stroke-width="1.5" fill="none"/>
<path d="M581.1 301.4L593.5 313.8M581.1 313.8L593.5 301.4" stroke-width="1.5" fill="none"/>
<path d="M609.1 196.3L621.5 208.7M609.1 208.7L621.5 196.3" stroke-width="1.5" fill="none"/>
<path d="M637.1 242.1L649.5 254.5M637.1 254.5L649.5 242.1" stroke-width="1.5" fill="none"/>
<path d="M665.2 252.1L677.6 264.5M665.2 264.5L677.6 252.1" stroke-width="1.5" fill="none"/>
<path d="M693.2 242.7L705.6 255.1M693.2 255.1L705.6 242.7" stroke-width="1.5" fill="none"/>
</g>
<g stroke="#FFD320" fill="#FFD320">
<polyline points="54.6,270.9 82.6,263.3 110.7,286.1 138.7,364.0 166.7,259.2 194.8,70.8 222.8,191.1 250.8,368.8 278.9,364.3 306.9,350.6 334.9,362.0 363.0,371.6 391.0,373.4 419.1,370.7 447.1,325.0 475.1,343.0 503.2,330.7 531.2,345.9 559.2,370.4 587.3,337.1 615.3,344.5 643.3,330.1 671.4,331.4 699.4,335.2" fill="none" stroke-width="3.8" stroke-linejoin="round" stroke-linecap="round"/>
<path d="M48.6 270.9H60.6" stroke-width="2.3" fill="none"/><path d="M54.6 264.1V277.7" stroke-width="3.2" fill="none"/>
<path d="M76.6 263.3H88.6" stroke-width="2.3" fill="none"/><path d="M82.6 256.5V270.1" stroke-width="3.2" fill="none"/>
<path d="M104.7 286.1H116.7" stroke-width="2.3" fill="none"/><path d="M110.7 279.3V292.9" stroke-width="3.2" fill="none"/>
<path d="M132.7 364.0H144.7" stroke-width="2.3" fill="none"/><path d="M138.7 357.2V370.8" stroke-width="3.2" fill="none"/>
<path d="M160.7 259.2H172.7" stroke-width="2.3" fill="none"/><path d="M166.7 252.4V266.0" stroke-width="3.2" fill="none"/>
<path d="M188.8 70.8H200.8" stroke-width="2.3" fill="none"/><path d="M194.8 64.0V77.6" stroke-width="3.2" fill="none"/>
<path d="M216.8 191.1H228.8" stroke-width="2.3" fill="none"/><path d="M222.8 184.3V197.9" stroke-width="3.2" fill="none"/>
<path d="M244.8 368.8H256.8" stroke-width="2.3" fill="none"/><path d="M250.8 362.0V375.6" stroke-width="3.2" fill="none"/>
<path d="M272.9 364.3H284.9" stroke-width="2.3" fill="none"/><path d="M278.9 357.5V371.1" stroke-width="3.2" fill="none"/>
<path d="M300.9 350.6H312.9" stroke-width="2.3" fill="none"/><path d="M306.9 343.8V357.4" stroke-width="3.2" fill="none"/>
<path d="M328.9 362.0H340.9" stroke-width="2.3" fill="none"/><path d="M334.9 355.2V368.8" stroke-width="3.2" fill="none"/>
<path d="M357.0 371.6H369.0" stroke-width="2.3" fill="none"/><path d="M363.0 364.8V378.4" stroke-width="3.2" fill="none"/>
<path d="M385.0 373.4H397.0" stroke-width="2.3" fill="none"/><path d="M391.0 366.6V380.2" stroke-width="3.2" fill="none"/>
<path d="M413.1 370.7H425.1" stroke-width="2.3" fill="none"/><path d="M419.1 363.9V377.5" stroke-width="3.2" fill="none"/>
<path d="M441.1 325.0H453.1" stroke-width="2.3" fill="none"/><path d="M447.1 318.2V331.8" stroke-width="3.2" fill="none"/>
<path d="M469.1 343.0H481.1" stroke-width="2.3" fill="none"/><path d="M475.1 336.2V349.8" stroke-width="3.2" fill="none"/>
<path d="M497.2 330.7H509.2" stroke-width="2.3" fill="none"/><path d="M503.2 323.9V337.5" stroke-width="3.2" fill="none"/>
<path d="M525.2 345.9H537.2" stroke-width="2.3" fill="none"/><path d="M531.2 339.1V352.7" stroke-width="3.2" fill="none"/>
<path d="M553.2 370.4H565.2" stroke-width="2.3" fill="none"/><path d="M559.2 363.6V377.2" stroke-width="3.2" fill="none"/>
<path d="M581.3 337.1H593.3" stroke-width="2.3" fill="none"/><path d="M587.3 330.3V343.9" stroke-width="3.2" fill="none"/>
<path d="M609.3 344.5H621.3" stroke-width="2.3" fill="none"/><path d="M615.3 337.7V351.3" stroke-width="3.2" fill="none"/>
<path d="M637.3 330.1H649.3" stroke-width="2.3" fill="none"/><path d="M643.3 323.3V336.9" stroke-width="3.2" fill="none"/>
<path d="M665.4 331.4H677.4" stroke-width="2.3" fill="none"/><path d="M671.4 324.6V338.2" stroke-width="3.2" fill="none"/>
<path d="M693.4 335.2H705.4" stroke-width="2.3" fill="none"/><path d="M699.4 328.4V342.0" stroke-width="3.2" fill="none"/>
</g>
<g stroke="#579D1C" fill="#579D1C">
<polyline points="54.6,341.2 82.6,349.8 110.7,333.9 138.7,319.3 166.7,236.4 194.8,70.5 222.8,357.3 250.8,369.6 278.9,350.6 306.9,345.7 334.9,352.6 363.0,348.3 391.0,369.6 419.1,346.8 447.1,327.8 475.1,305.0 503.2,283.2 531.2,272.7 559.2,259.1 587.3,265.9 615.3,260.9 643.3,278.1 671.4,306.9 699.4,325.2" fill="none" stroke-width="3.8" stroke-linejoin="round" stroke-linecap="round"/>
<path d="M47.8 336.4L61.4 346.0M47.8 346.0L61.4 336.4M54.6 335.2V347.2" stroke-width="1.9" fill="none"/>
<path d="M75.8 345.0L89.4 354.6M75.8 354.6L89.4 345.0M82.6 343.8V355.8" stroke-width="1.9" fill="none"/>
<path d="M103.9 329.1L117.5 338.7M103.9 338.7L117.5 329.1M110.7 327.9V339.9" stroke-width="1.9" fill="none"/>
<path d="M131.9 314.5L145.5 324.1M131.9 324.1L145.5 314.5M138.7 313.3V325.3" stroke-width="1.9" fill="none"/>
<path d="M159.9 231.6L173.5 241.2M159.9 241.2L173.5 231.6M166.7 230.4V242.4" stroke-width="1.9" fill="none"/>
<path d="M188.0 65.7L201.6 75.3M188.0 75.3L201.6 65.7M194.8 64.5V76.5" stroke-width="1.9" fill="none"/>
<path d="M216.0 352.5L229.6 362.1M216.0 362.1L229.6 352.5M222.8 351.3V363.3" stroke-width="1.9" fill="none"/>
<path d="M244.0 364.8L257.6 374.4M244.0 374.4L257.6 364.8M250.8 363.6V375.6" stroke-width="1.9" fill="none"/>
<path d="M272.1 345.8L285.7 355.4M272.1 355.4L285.7 345.8M278.9 344.6V356.6" stroke-width="1.9" fill="none"/>
<path d="M300.1 340.9L313.7 350.5M300.1 350.5L313.7 340.9M306.9 339.7V351.7" stroke-width="1.9" fill="none"/>
<path d="M328.1 347.8L341.7 357.4M328.1 357.4L341.7 347.8M334.9 346.6V358.6" stroke-width="1.9" fill="none"/>
<path d="M356.2 343.5L369.8 353.1M356.2 353.1L369.8 343.5M363.0 342.3V354.3" stroke-width="1.9" fill="none"/>
<path d="M384.2 364.8L397.8 374.4M384.2 374.4L397.8 364.8M391.0 363.6V375.6" stroke-width="1.9" fill="none"/>
<path d="M412.3 342.0L425.9 351.6M412.3 351.6L425.9 342.0M419.1 340.8V352.8" stroke-width="1.9" fill="none"/>
<path d="M440.3 323.0L453.9 332.6M440.3 332.6L453.9 323.0M447.1 321.8V333.8" stroke-width="1.9" fill="none"/>
<path d="M468.3 300.2L481.9 309.8M468.3 309.8L481.9 300.2M475.1 299.0V311.0" stroke-width="1.9" fill="none"/>
<path d="M496.4 278.4L510.0 288.0M496.4 288.0L510.0 278.4M503.2 277.2V289.2" stroke-width="1.9" fill="none"/>
<path d="M524.4 267.9L538.0 277.5M524.4 277.5L538.0 267.9M531.2 266.7V278.7" stroke-width="1.9" fill="none"/>
<path d="M552.4 254.3L566.0 263.9M552.4 263.9L566.0 254.3M559.2 253.1V265.1" stroke-width="1.9" fill="none"/>
<path d="M580.5 261.1L594.1 270.7M580.5 270.7L594.1 261.1M587.3 259.9V271.9" stroke-width="1.9" fill="none"/>
<path d="M608.5 256.1L622.1 265.7M608.5 265.7L622.1 256.1M615.3 254.9V266.9" stroke-width="1.9" fill="none"/>
<path d="M636.5 273.3L650.1 282.9M636.5 282.9L650.1 273.3M643.3 272.1V284.1" stroke-width="1.9" fill="none"/>
<path d="M664.6 302.1L678.2 311.7M664.6 311.7L678.2 302.1M671.4 300.9V312.9" stroke-width="1.9" fill="none"/>
<path d="M692.6 320.4L706.2 330.0M692.6 330.0L706.2 320.4M699.4 319.2V331.2" stroke-width="1.9" fill="none"/>
</g>
<g stroke="#7E0021" fill="#7E0021">
<polyline points="54.6,346.8 82.6,336.4 110.7,364.9 138.7,378.3 166.7,162.0 194.8,100.2 222.8,219.5 250.8,368.5 278.9,347.9 306.9,364.9 334.9,367.0 363.0,365.8 391.0,352.6 419.1,354.4 447.1,360.2 475.1,355.3 503.2,351.7 531.2,332.6 559.2,327.0 587.3,321.5 615.3,338.9 643.3,269.7 671.4,320.5 699.4,316.1" fill="none" stroke-width="3.8" stroke-linejoin="round" stroke-linecap="round"/>
<rect x="47.3" y="344.8" width="14.6" height="4" stroke="none"/>
<rect x="75.3" y="334.4" width="14.6" height="4" stroke="none"/>
<rect x="103.4" y="362.9" width="14.6" height="4" stroke="none"/>
<rect x="131.4" y="376.3" width="14.6" height="4" stroke="none"/>
<rect x="159.4" y="160.0" width="14.6" height="4" stroke="none"/>
<rect x="187.5" y="98.2" width="14.6" height="4" stroke="none"/>
<rect x="215.5" y="217.5" width="14.6" height="4" stroke="none"/>
<rect x="243.5" y="366.5" width="14.6" height="4" stroke="none"/>
<rect x="271.6" y="345.9" width="14.6" height="4" stroke="none"/>
<rect x="299.6" y="362.9" width="14.6" height="4" stroke="none"/>
<rect x="327.6" y="365.0" width="14.6" height="4" stroke="none"/>
<rect x="355.7" y="363.8" width="14.6" height="4" stroke="none"/>
<rect x="383.7" y="350.6" width="14.6" height="4" stroke="none"/>
<rect x="411.8" y="352.4" width="14.6" height="4" stroke="none"/>
<rect x="439.8" y="358.2" width="14.6" height="4" stroke="none"/>
<rect x="467.8" y="353.3" width="14.6" height="4" stroke="none"/>
<rect x="495.9" y="349.7" width="14.6" height="4" stroke="none"/>
<rect x="523.9" y="330.6" width="14.6" height="4" stroke="none"/>
<rect x="551.9" y="325.0" width="14.6" height="4" stroke="none"/>
<rect x="580.0" y="319.5" width="14.6" height="4" stroke="none"/>
<rect x="608.0" y="336.9" width="14.6" height="4" stroke="none"/>
<rect x="636.0" y="267.7" width="14.6" height="4" stroke="none"/>
<rect x="664.1" y="318.5" width="14.6" height="4" stroke="none"/>
<rect x="692.1" y="314.1" width="14.6" height="4" stroke="none"/>
</g>
<g stroke="#83CAFF" fill="#83CAFF">
<polyline points="54.6,328.7 82.6,348.8 110.7,347.9 138.7,366.2 166.7,157.8 194.8,123.9 222.8,254.8 250.8,345.7 278.9,346.0 306.9,329.8 334.9,345.0 363.0,364.0 391.0,331.6 419.1,335.4 447.1,360.2 475.1,365.8 503.2,363.1 531.2,325.0 559.2,279.9 587.3,271.1 615.3,276.1 643.3,259.1 671.4,265.9 699.4,270.9" fill="none" stroke-width="3.8" stroke-linejoin="round" stroke-linecap="round"/>
<path d="M48.6 328.7H60.6" stroke-width="2.3" fill="none"/><path d="M54.6 321.9V335.5" stroke-width="3.2" fill="none"/>
<path d="M76.6 348.8H88.6" stroke-width="2.3" fill="none"/><path d="M82.6 342.0V355.6" stroke-width="3.2" fill="none"/>
<path d="M104.7 347.9H116.7" stroke-width="2.3" fill="none"/><path d="M110.7 341.1V354.7" stroke-width="3.2" fill="none"/>
<path d="M132.7 366.2H144.7" stroke-width="2.3" fill="none"/><path d="M138.7 359.4V373.0" stroke-width="3.2" fill="none"/>
<path d="M160.7 157.8H172.7" stroke-width="2.3" fill="none"/><path d="M166.7 151.0V164.6" stroke-width="3.2" fill="none"/>
<path d="M188.8 123.9H200.8" stroke-width="2.3" fill="none"/><path d="M194.8 117.1V130.7" stroke-width="3.2" fill="none"/>
<path d="M216.8 254.8H228.8" stroke-width="2.3" fill="none"/><path d="M222.8 248.0V261.6" stroke-width="3.2" fill="none"/>
<path d="M244.8 345.7H256.8" stroke-width="2.3" fill="none"/><path d="M250.8 338.9V352.5" stroke-width="3.2" fill="none"/>
<path d="M272.9 346.0H284.9" stroke-width="2.3" fill="none"/><path d="M278.9 339.2V352.8" stroke-width="3.2" fill="none"/>
<path d="M300.9 329.8H312.9" stroke-width="2.3" fill="none"/><path d="M306.9 323.0V336.6" stroke-width="3.2" fill="none"/>
<path d="M328.9 345.0H340.9" stroke-width="2.3" fill="none"/><path d="M334.9 338.2V351.8" stroke-width="3.2" fill="none"/>
<path d="M357.0 364.0H369.0" stroke-width="2.3" fill="none"/><path d="M363.0 357.2V370.8" stroke-width="3.2" fill="none"/>
<path d="M385.0 331.6H397.0" stroke-width="2.3" fill="none"/><path d="M391.0 324.8V338.4" stroke-width="3.2" fill="none"/>
<path d="M413.1 335.4H425.1" stroke-width="2.3" fill="none"/><path d="M419.1 328.6V342.2" stroke-width="3.2" fill="none"/>
<path d="M441.1 360.2H453.1" stroke-width="2.3" fill="none"/><path d="M447.1 353.4V367.0" stroke-width="3.2" fill="none"/>
<path d="M469.1 365.8H481.1" stroke-width="2.3" fill="none"/><path d="M475.1 359.0V372.6" stroke-width="3.2" fill="none"/>
<path d="M497.2 363.1H509.2" stroke-width="2.3" fill="none"/><path d="M503.2 356.3V369.9" stroke-width="3.2" fill="none"/>
<path d="M525.2 325.0H537.2" stroke-width="2.3" fill="none"/><path d="M531.2 318.2V331.8" stroke-width="3.2" fill="none"/>
<path d="M553.2 279.9H565.2" stroke-width="2.3" fill="none"/><path d="M559.2 273.1V286.7" stroke-width="3.2" fill="none"/>
<path d="M581.3 271.1H593.3" stroke-width="2.3" fill="none"/><path d="M587.3 264.3V277.9" stroke-width="3.2" fill="none"/>
<path d="M609.3 276.1H621.3" stroke-width="2.3" fill="none"/><path d="M615.3 269.3V282.9" stroke-width="3.2" fill="none"/>
<path d="M637.3 259.1H649.3" stroke-width="2.3" fill="none"/><path d="M643.3 252.3V265.9" stroke-width="3.2" fill="none"/>
<path d="M665.4 265.9H677.4" stroke-width="2.3" fill="none"/><path d="M671.4 259.1V272.7" stroke-width="3.2" fill="none"/>
<path d="M693.4 270.9H705.4" stroke-width="2.3" fill="none"/><path d="M699.4 264.1V277.7" stroke-width="3.2" fill="none"/>
</g>
</svg>
<div id="bt"></div><div id="bl"></div>
<div id="t"><span class="j">消費 </span><span class="d">202304</span></div>
<div class="yl" style="top:376.7px">0</div><div class="yl" style="top:300.7px">500</div><div class="yl" style="top:224.7px">1000</div><div class="yl" style="top:148.6px">1500</div><div class="yl" style="top:72.6px">2000</div><div class="yl" style="top:-3.4px">2500</div><div class="xl" style="left:33.4px">1</div><div class="xl" style="left:61.4px">2</div><div class="xl" style="left:89.5px">3</div><div class="xl" style="left:117.5px">4</div><div class="xl" style="left:145.5px">5</div><div class="xl" style="left:173.6px">6</div><div class="xl" style="left:201.6px">7</div><div class="xl" style="left:229.6px">8</div><div class="xl" style="left:257.7px">9</div><div class="xl" style="left:285.7px">10</div><div class="xl" style="left:313.7px">11</div><div class="xl" style="left:341.8px">12</div><div class="xl" style="left:369.8px">13</div><div class="xl" style="left:397.9px">14</div><div class="xl" style="left:425.9px">15</div><div class="xl" style="left:453.9px">16</div><div class="xl" style="left:482.0px">17</div><div class="xl" style="left:510.0px">18</div><div class="xl" style="left:538.0px">19</div><div class="xl" style="left:566.1px">20</div><div class="xl" style="left:594.1px">21</div><div class="xl" style="left:622.1px">22</div><div class="xl" style="left:650.2px">23</div><div class="xl" style="left:678.2px">24</div>
</div>
</body></html>
